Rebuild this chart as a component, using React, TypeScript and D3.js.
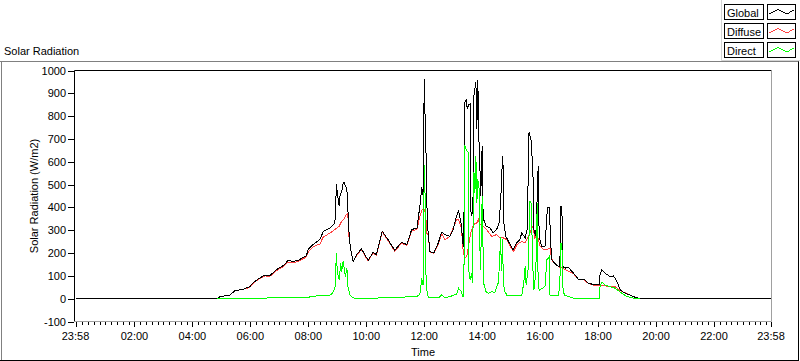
import React from 'react';
import * as d3 from 'd3';

// time in minutes after midnight, value in W/m2
const globalData: [number, number][] = [
  [-2,0],[292,0],[297,9],[317,15],[328,35],[345,41],[359,53],[366,71],[379,90],[390,104],[400,100],[414,127],[431,149],[438,168],[448,163],[459,168],[476,188],[480,218],[490,237],[504,259],[511,294],[525,310],[535,330],[537,420],[538,501],[541,450],[544,406],[546,460],[549,465],[552,505],[554,509],[557,495],[559,487],[561,450],[562,391],[564,300],[566,244],[570,190],[573,163],[580,193],[590,218],[597,193],[604,168],[614,203],[621,193],[633,296],[645,259],[659,212],[673,247],[684,237],[694,303],[705,310],[711,406],[715,487],[718,450],[719,700],[720,964],[721,900],[722,760],[723,758],[725,435],[728,288],[732,207],[740,200],[749,244],[756,291],[763,281],[773,273],[780,303],[787,362],[791,384],[797,325],[800,240],[802,229],[803,600],[804,861],[807,870],[809,832],[812,850],[815,854],[816,391],[818,362],[820,380],[822,500],[823,891],[825,920],[827,950],[829,744],[830,870],[831,957],[833,714],[835,600],[837,450],[839,600],[840,670],[842,354],[848,317],[856,310],[863,288],[870,303],[875,332],[878,421],[880,500],[882,626],[884,553],[885,332],[889,273],[898,237],[904,215],[911,244],[918,259],[922,288],[929,266],[933,303],[935,500],[937,729],[939,715],[941,700],[945,567],[947,303],[951,273],[954,450],[956,582],[958,273],[963,229],[970,229],[975,399],[979,399],[982,244],[984,171],[991,153],[998,141],[1001,141],[1002,403],[1005,403],[1007,141],[1012,134],[1018,138],[1029,112],[1039,86],[1050,86],[1060,68],[1074,60],[1083,60],[1084,104],[1088,127],[1094,112],[1105,97],[1112,100],[1119,75],[1126,38],[1136,24],[1146,16],[1157,6],[1163,2],[1167,0],[1438,0]
];

const diffuseData: [number, number][] = [
  [292,0],[297,9],[317,15],[328,35],[345,41],[359,50],[366,68],[379,88],[390,100],[400,97],[414,122],[431,145],[438,160],[448,158],[459,163],[476,183],[480,205],[490,228],[504,240],[511,270],[525,288],[535,303],[544,317],[549,340],[554,350],[559,369],[562,373],[563,288],[566,244],[570,190],[573,163],[580,190],[590,215],[597,190],[604,165],[614,200],[621,190],[633,293],[645,255],[659,208],[673,243],[684,233],[694,298],[705,303],[711,362],[716,391],[720,390],[723,376],[725,288],[728,280],[732,205],[740,198],[749,240],[756,285],[763,259],[773,273],[787,347],[791,345],[797,310],[801,200],[804,178],[808,185],[811,222],[816,288],[822,325],[829,332],[832,347],[835,325],[842,317],[849,303],[860,273],[870,281],[877,266],[884,266],[891,259],[898,229],[905,207],[912,237],[922,251],[929,244],[936,273],[939,288],[945,317],[949,266],[954,281],[960,229],[967,215],[974,215],[981,222],[983,185],[987,159],[998,141],[1005,134],[1012,127],[1029,110],[1039,84],[1050,84],[1060,66],[1074,58],[1081,57],[1084,56],[1095,57],[1101,53],[1115,53],[1122,41],[1129,31],[1140,24],[1146,16],[1157,6],[1163,2],[1167,0]
];

const directData: [number, number][] = [
  [292,0],[297,2],[400,3],[476,5],[490,10],[504,14],[525,16],[530,24],[535,46],[536,60],[538,200],[540,120],[544,82],[547,156],[549,119],[552,163],[557,97],[560,134],[562,53],[566,16],[573,3],[600,2],[650,4],[705,10],[711,20],[715,90],[716,68],[718,60],[719,300],[720,582],[721,582],[722,400],[724,53],[728,9],[732,3],[750,3],[756,16],[763,5],[773,9],[787,20],[791,46],[797,31],[800,9],[802,10],[804,673],[806,660],[808,650],[811,641],[812,127],[815,82],[818,112],[820,68],[821,300],[823,553],[825,465],[827,626],[829,421],[831,523],[834,479],[836,127],[838,250],[840,450],[843,68],[848,31],[853,24],[860,31],[866,25],[873,68],[876,150],[878,270],[880,120],[882,260],[884,68],[887,31],[891,16],[922,16],[926,68],[929,141],[931,60],[935,127],[939,430],[942,413],[944,185],[947,38],[951,112],[954,420],[956,46],[959,38],[970,53],[974,171],[977,178],[979,185],[980,16],[987,13],[998,16],[1001,68],[1002,244],[1005,244],[1007,53],[1010,16],[1029,2],[1083,2],[1084,53],[1088,72],[1094,60],[1105,53],[1115,46],[1129,24],[1140,9],[1157,0],[1167,0]
];

const seriesNames = ['Global', 'Diffuse', 'Direct'];
const seriesColors = ['#000000', '#ff4040', '#00ff00'];
const yTickValues = [-100, 0, 100, 200, 300, 400, 500, 600, 700, 800, 900, 1000];
const xMajorTicks = [-2, 120, 240, 360, 480, 600, 720, 840, 960, 1080, 1200, 1320, 1438];
const xMajorLabels = ['23:58', '02:00', '04:00', '06:00', '08:00', '10:00', '12:00', '14:00', '16:00', '18:00', '20:00', '22:00', '23:58'];

const FONT = '"Liberation Sans", Arial, sans-serif';

export default function App() {
  const x = d3.scaleLinear().domain([-2, 1438]).range([75.5, 771]);
  const y = d3.scaleLinear().domain([-100, 1000]).range([321.5, 70.5]);
  const line = d3.line<[number, number]>().x(d => x(d[0])).y(d => y(d[1]));

  const minorTicks: number[] = [];
  for (let m = 0; m <= 1438; m += 12) if (!xMajorTicks.includes(m)) minorTicks.push(m);

  const left = 74.5, right = 771.5, top = 70.5, bottom = 321.5;
  const plotData = [globalData, diffuseData, directData];
  const drawOrder = [1, 0, 2];

  return (
    <svg width={800} height={361} style={{ position: 'fixed', left: 0, top: 0, background: '#fff' }} fontFamily={FONT} fontSize={11}>
      <rect x={0} y={0} width={800} height={361} fill="#fff" />
      {/* outer panel frame */}
      <line x1={0} x2={799} y1={61.5} y2={61.5} stroke="#808080" />
      <line x1={1.5} x2={1.5} y1={61.5} y2={361} stroke="#808080" />
      <line x1={0} x2={799} y1={360.5} y2={360.5} stroke="#000" />
      <line x1={798.5} x2={798.5} y1={61.5} y2={361} stroke="#000" />
      {/* legend backdrop */}
      <line x1={721.5} x2={721.5} y1={0} y2={60.5} stroke="#d4d4d4" />
      <line x1={721.5} x2={800} y1={60.5} y2={60.5} stroke="#d4d4d4" />

      <text x={4} y={55} fill="#000">Solar Radiation</text>

      {/* plot frame */}
      <line x1={left} x2={right} y1={top} y2={top} stroke="#000" />
      <line x1={left} x2={left} y1={top} y2={bottom} stroke="#000" />
      <line x1={left} x2={right} y1={bottom} y2={bottom} stroke="#a0a0a0" />
      <line x1={right} x2={right} y1={top} y2={bottom} stroke="#a0a0a0" />

      {/* y axis */}
      {yTickValues.map(v => (
        <g key={v}>
          <line x1={68} x2={74} y1={Math.round(y(v)) + 0.5} y2={Math.round(y(v)) + 0.5} stroke="#000" />
          <text x={66} y={Math.round(y(v)) + 4} textAnchor="end" fill="#000">{v}</text>
        </g>
      ))}
      <text transform={`translate(38,${(top + bottom) / 2}) rotate(-90)`} textAnchor="middle" fill="#000">Solar Radiation (W/m2)</text>

      {/* x axis */}
      {minorTicks.map(m => (
        <line key={'m' + m} x1={Math.round(x(m)) + 0.5} x2={Math.round(x(m)) + 0.5} y1={322} y2={325} stroke="#000" />
      ))}
      {xMajorTicks.map((m, i) => (
        <g key={'M' + i}>
          <line x1={Math.round(x(m)) + 0.5} x2={Math.round(x(m)) + 0.5} y1={322} y2={327} stroke="#000" />
          <text x={x(m)} y={340} textAnchor="middle" fill="#000">{xMajorLabels[i]}</text>
        </g>
      ))}
      <text x={(left + right) / 2} y={356} textAnchor="middle" fill="#000">Time</text>

      {/* series */}
      {drawOrder.map(i => (
        <path key={seriesNames[i]} d={line(plotData[i]) || ''} fill="none" stroke={seriesColors[i]} strokeWidth={1} shapeRendering="crispEdges" />
      ))}

      {/* legend */}
      {seriesNames.map((name, i) => {
        const ry = 4.5 + i * 19;
        const sx = 767.5;
        const zig = d3.line<[number, number]>()([[sx + 1.5, ry + 9.5], [sx + 10.5, ry + 5], [sx + 19.5, ry + 9.5], [sx + 27, ry + 5]]);
        return (
          <g key={name}>
            <rect x={724.5} y={ry} width={39} height={15} fill="#fff" stroke="#000" />
            <text x={727} y={ry + 12} fill="#000">{name}</text>
            <rect x={sx} y={ry} width={28} height={15} fill="#fff" stroke="#000" />
            <path d={zig || ''} fill="none" stroke={seriesColors[i]} shapeRendering="crispEdges" />
          </g>
        );
      })}
    </svg>
  );
}
